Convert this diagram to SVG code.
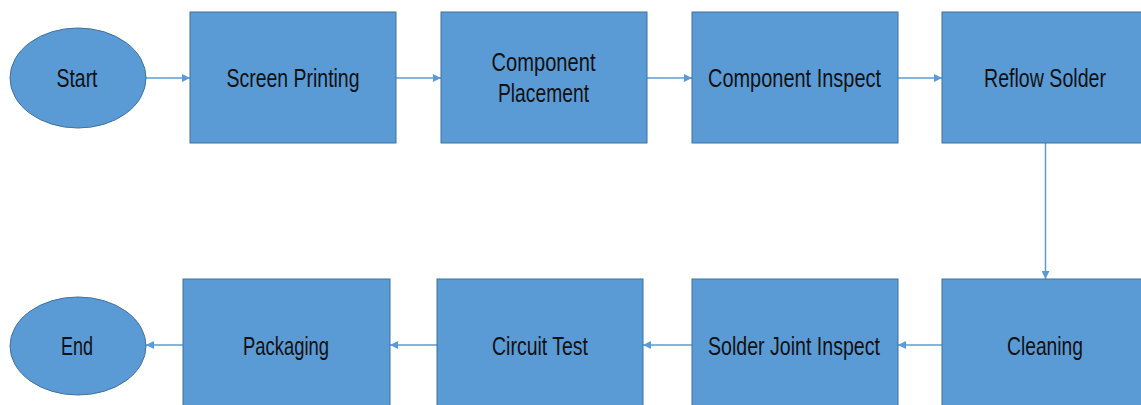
<svg xmlns="http://www.w3.org/2000/svg" width="1141" height="405" viewBox="0 0 1141 405">
  <style>
    .box { fill: #5B9BD5; stroke: #41719C; stroke-width: 1; }
    .lbl { font-family: "Liberation Sans", Arial, sans-serif; font-size: 25px; fill: #111; text-anchor: middle; }
    .edge { stroke: #5B9BD5; stroke-width: 1.5; fill: none; marker-end: url(#head); }
  </style>
  <defs>
    <marker id="head" viewBox="0 0 10 10" refX="10" refY="5" markerWidth="8" markerHeight="8" markerUnits="userSpaceOnUse" orient="auto">
      <path d="M0,0 L10,5 L0,10 Z" fill="#5B9BD5"/>
    </marker>
  </defs>
  <rect width="1141" height="405" fill="#FFFFFF"/>

  <g id="connectors">
    <line class="edge" x1="146" y1="78" x2="190" y2="78"/>
    <line class="edge" x1="396" y1="78" x2="441" y2="78"/>
    <line class="edge" x1="647" y1="78" x2="692" y2="78"/>
    <line class="edge" x1="898" y1="78" x2="942" y2="78"/>
    <line class="edge" x1="1045.5" y1="143" x2="1045.5" y2="279"/>
    <line class="edge" x1="942" y1="345" x2="898" y2="345"/>
    <line class="edge" x1="692" y1="345" x2="643" y2="345"/>
    <line class="edge" x1="437" y1="345" x2="390" y2="345"/>
    <line class="edge" x1="183" y1="345" x2="146" y2="345"/>
  </g>

  <g id="start">
    <ellipse class="box" cx="78" cy="78" rx="68" ry="50"/>
    <text class="lbl" x="77" y="87" textLength="41" lengthAdjust="spacingAndGlyphs">Start</text>
  </g>
  <g id="screen-printing">
    <rect class="box" x="190" y="12" width="206" height="131"/>
    <text class="lbl" x="293" y="87" textLength="133" lengthAdjust="spacingAndGlyphs">Screen Printing</text>
  </g>
  <g id="component-placement">
    <rect class="box" x="441" y="12" width="206" height="131"/>
    <text class="lbl" x="543.5" y="71" textLength="104" lengthAdjust="spacingAndGlyphs">Component</text>
    <text class="lbl" x="543.5" y="102" textLength="91" lengthAdjust="spacingAndGlyphs">Placement</text>
  </g>
  <g id="component-inspect">
    <rect class="box" x="692" y="12" width="206" height="131"/>
    <text class="lbl" x="794.5" y="87" textLength="173" lengthAdjust="spacingAndGlyphs">Component Inspect</text>
  </g>
  <g id="reflow-solder">
    <rect class="box" x="942" y="12" width="206" height="131"/>
    <text class="lbl" x="1045" y="87" textLength="122" lengthAdjust="spacingAndGlyphs">Reflow Solder</text>
  </g>

  <g id="cleaning">
    <rect class="box" x="942" y="279" width="206" height="131"/>
    <text class="lbl" x="1045" y="355" textLength="76" lengthAdjust="spacingAndGlyphs">Cleaning</text>
  </g>
  <g id="solder-joint-inspect">
    <rect class="box" x="692" y="279" width="206" height="131"/>
    <text class="lbl" x="794" y="355" textLength="172" lengthAdjust="spacingAndGlyphs">Solder Joint Inspect</text>
  </g>
  <g id="circuit-test">
    <rect class="box" x="437" y="279" width="206" height="131"/>
    <text class="lbl" x="540" y="355" textLength="96" lengthAdjust="spacingAndGlyphs">Circuit Test</text>
  </g>
  <g id="packaging">
    <rect class="box" x="183" y="279" width="207" height="131"/>
    <text class="lbl" x="286" y="355" textLength="86" lengthAdjust="spacingAndGlyphs">Packaging</text>
  </g>
  <g id="end">
    <ellipse class="box" cx="78" cy="346" rx="68" ry="49"/>
    <text class="lbl" x="77" y="355" textLength="32" lengthAdjust="spacingAndGlyphs">End</text>
  </g>
</svg>
